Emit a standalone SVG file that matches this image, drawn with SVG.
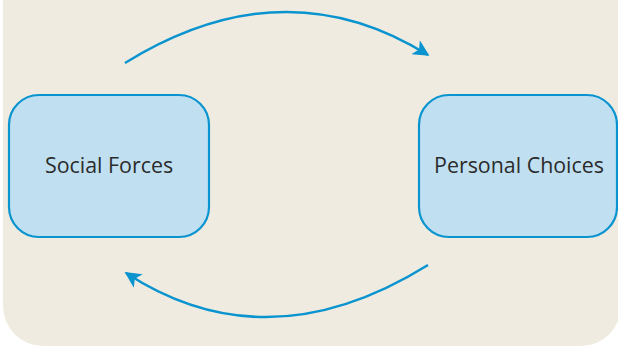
<svg xmlns="http://www.w3.org/2000/svg" width="618" height="347" viewBox="0 0 618 347">
<defs>
<style>
.box{fill:#c0e0f1;stroke:#0a94cf;stroke-width:2.2}
.lbl{font-family:"Open Sans","Noto Sans",sans-serif;font-size:21.4px;fill:#2b2b2b;text-anchor:middle}
.arc{fill:none;stroke:#0a94cf;stroke-width:2.5}
</style>
<marker id="ah" viewBox="0 0 10 10" refX="9" refY="5" markerWidth="8" markerHeight="6.5" markerUnits="strokeWidth" orient="auto">
<path d="M0,0 L10,5 L0,10 L2.5,5 Z" fill="#0a94cf"/>
</marker>
</defs>
<rect width="618" height="347" fill="#ffffff"/>
<rect x="3" y="-50" width="618" height="396" rx="40" fill="#f0ebe1"/>
<g id="connectors">
<path class="arc" d="M125,63 Q284,-35 428,55" marker-end="url(#ah)"/>
<path class="arc" d="M428,265 Q267,365 126,273" marker-end="url(#ah)"/>
</g>
<g id="social-forces">
<rect class="box" x="9" y="95" width="200" height="142" rx="30"/>
<text class="lbl" x="109" y="173">Social Forces</text>
</g>
<g id="personal-choices">
<rect class="box" x="419" y="95" width="198" height="142" rx="30"/>
<text class="lbl" x="519" y="173">Personal Choices</text>
</g>
</svg>
